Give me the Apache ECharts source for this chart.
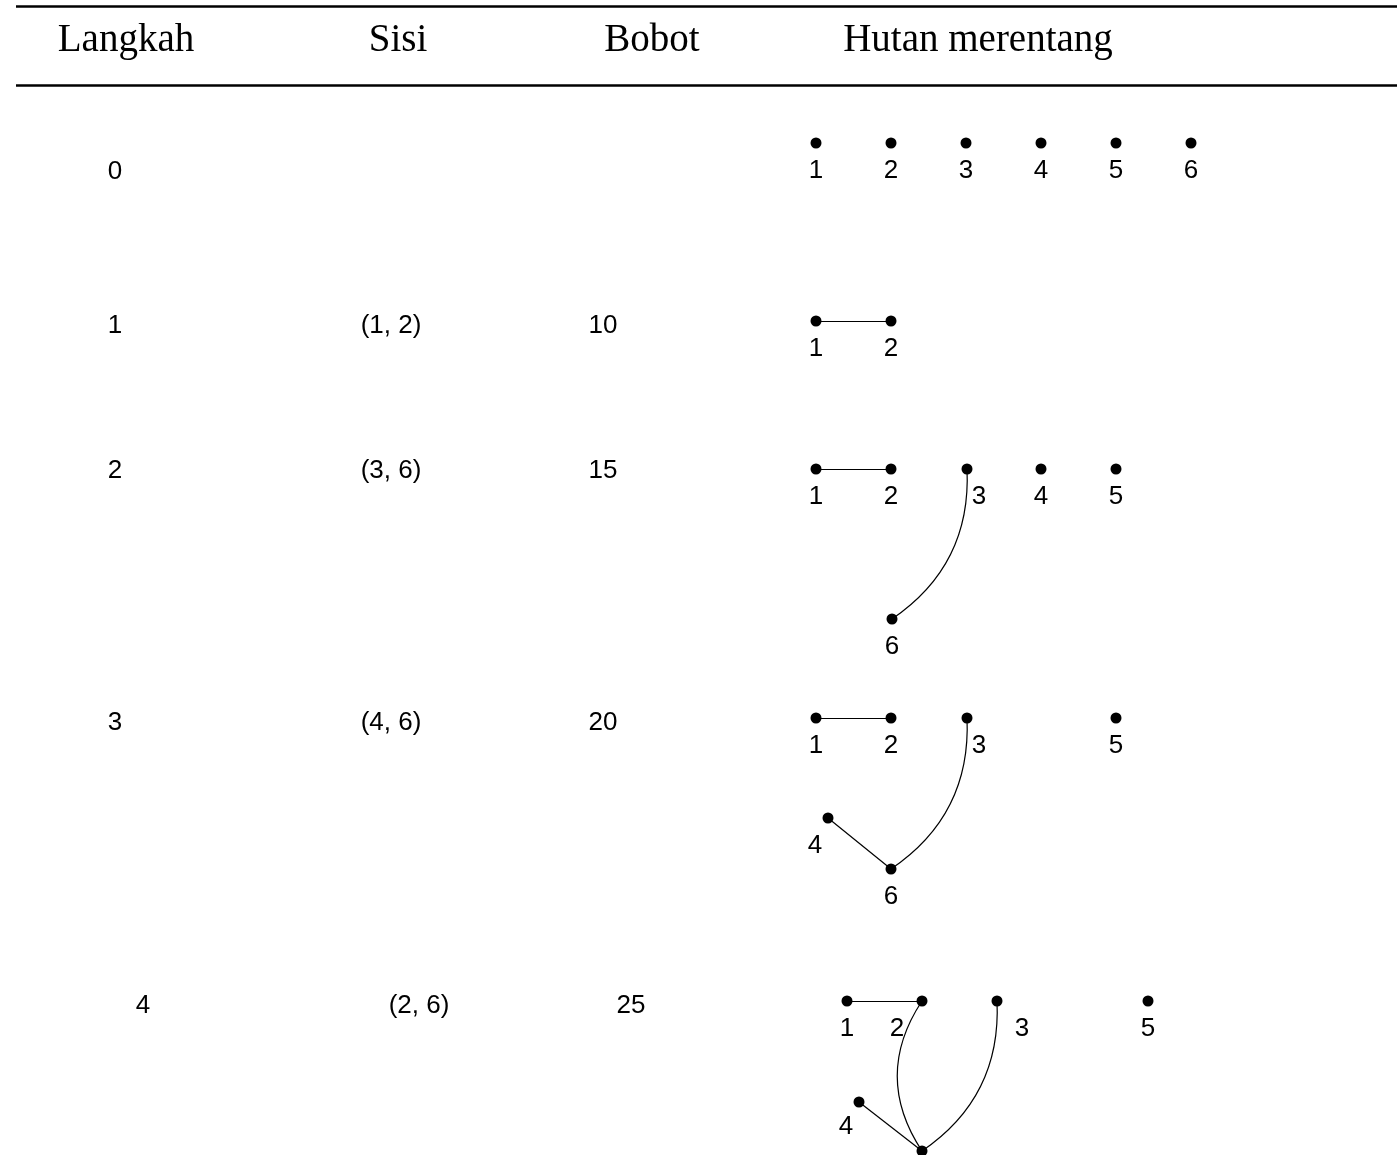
<!DOCTYPE html>
<html>
<head>
<meta charset="utf-8">
<title>Hutan merentang</title>
<script src="https://cdn.jsdelivr.net/npm/echarts@6/dist/echarts.min.js"></script>
<style>
  html, body { margin: 0; padding: 0; background: #ffffff; }
  #chart { width: 1397px; height: 1155px; }
</style>
</head>
<body>
<div id="chart"></div>
<script>
// judul kolom
const headers = ['Langkah', 'Sisi', 'Bobot', 'Hutan merentang'];
const headerX = [126, 398, 652, 978];

// isi tabel
const steps = ['0', '1', '2', '3', '4'];
const edgesTaken = ['', '(1, 2)', '(3, 6)', '(4, 6)', '(2, 6)'];
const weights = ['', '10', '15', '20', '25'];
const rowY = [172, 326, 471, 723, 1006];
const rowShift = [0, 0, 0, 0, 28]; // baris terakhir agak ke kanan
const colX = [115, 391, 603];

// posisi simpul tiap langkah: [nama, x, y]
const forest0 = [[1, 816, 143], [2, 891, 143], [3, 966, 143], [4, 1041, 143], [5, 1116, 143], [6, 1191, 143]];
const forest1 = [[1, 816, 321], [2, 891, 321]];
const forest2 = [[1, 816, 469], [2, 891, 469], [3, 967, 469], [4, 1041, 469], [5, 1116, 469], [6, 892, 619]];
const forest3 = [[1, 816, 718], [2, 891, 718], [3, 967, 718], [5, 1116, 718], [4, 828, 818], [6, 891, 869]];
const forest4 = [[1, 847, 1001], [2, 922, 1001], [3, 997, 1001], [5, 1148, 1001], [4, 859, 1102], [6, 922, 1151]];
const forests = [forest0, forest1, forest2, forest3, forest4];

// sisi tiap langkah: [dari, ke, lengkung]
const forestEdges = [
  [],
  [[1, 2, 0]],
  [[1, 2, 0], [3, 6, 0.28]],
  [[1, 2, 0], [3, 6, 0.28], [4, 6, 0]],
  [[1, 2, 0], [2, 6, -0.33], [3, 6, 0.28], [4, 6, 0]]
];

// geser label simpul yang tertabrak garis (langkah-simpul)
const labelShift = {
  '2-3': [12, 28], '3-3': [12, 28], '3-4': [-13, 28],
  '4-2': [-25, 28], '4-3': [25, 28], '4-4': [-13, 25]
};

const SANS = 'Liberation Sans';
const SERIF = 'Liberation Serif';

function textItems() {
  const out = [];
  steps.forEach((s, i) => {
    out.push({ value: [colX[0] + rowShift[i], rowY[i]], name: s });
    if (edgesTaken[i]) out.push({ value: [colX[1] + rowShift[i], rowY[i]], name: edgesTaken[i] });
    if (weights[i]) out.push({ value: [colX[2] + rowShift[i], rowY[i]], name: weights[i] });
  });
  return out;
}

const nodeData = [];
const nodeLabelData = [];
const edgeData = [];
forests.forEach((nodes, step) => {
  const pos = {};
  nodes.forEach(n => {
    pos[n[0]] = [n[1], n[2]];
    nodeData.push({ value: [n[1], n[2]] });
    const sh = labelShift[step + '-' + n[0]] || [0, 28];
    nodeLabelData.push({ value: [n[1], n[2]], name: String(n[0]), label: { offset: sh } });
  });
  forestEdges[step].forEach(e => {
    edgeData.push({ coords: [pos[e[0]], pos[e[1]]], lineStyle: { curveness: e[2] } });
  });
});

// label teks hitam penuh
function textLabel(font, size) {
  return {
    show: true, position: 'inside', formatter: '{b}',
    color: '#000000', opacity: 1, textBorderWidth: 0,
    fontFamily: font, fontSize: size
  };
}

const chart = echarts.init(document.getElementById('chart'));
const option = {
  animation: false,
  backgroundColor: '#ffffff',
  grid: { left: 0, right: 0, top: 0, bottom: 0 },
  xAxis: { type: 'value', min: 0, max: 1397, show: false },
  yAxis: { type: 'value', min: 0, max: 1155, inverse: true, show: false },
  series: [
    {
      // garis atas dan bawah judul
      type: 'lines',
      coordinateSystem: 'cartesian2d',
      silent: true,
      lineStyle: { color: '#000000', width: 2.5, opacity: 1 },
      data: [
        { coords: [[16, 6], [1397, 6]] },
        { coords: [[16, 85], [1397, 85]] }
      ]
    },
    {
      type: 'scatter',
      symbolSize: 0,
      silent: true,
      itemStyle: { opacity: 1 },
      label: textLabel(SERIF, 39),
      data: headers.map((h, i) => ({ value: [headerX[i], 41], name: h }))
    },
    {
      type: 'scatter',
      symbolSize: 0,
      silent: true,
      itemStyle: { opacity: 1 },
      label: textLabel(SANS, 26),
      data: textItems()
    },
    {
      // sisi hutan
      type: 'lines',
      coordinateSystem: 'cartesian2d',
      silent: true,
      lineStyle: { color: '#000000', width: 1.2, opacity: 1 },
      data: edgeData
    },
    {
      // simpul
      type: 'scatter',
      symbol: 'circle',
      symbolSize: 11,
      silent: true,
      itemStyle: { color: '#000000', opacity: 1 },
      data: nodeData
    },
    {
      type: 'scatter',
      symbolSize: 0,
      silent: true,
      itemStyle: { opacity: 1 },
      label: textLabel(SANS, 26),
      data: nodeLabelData
    }
  ]
};
chart.setOption(option);
</script>
</body>
</html>
